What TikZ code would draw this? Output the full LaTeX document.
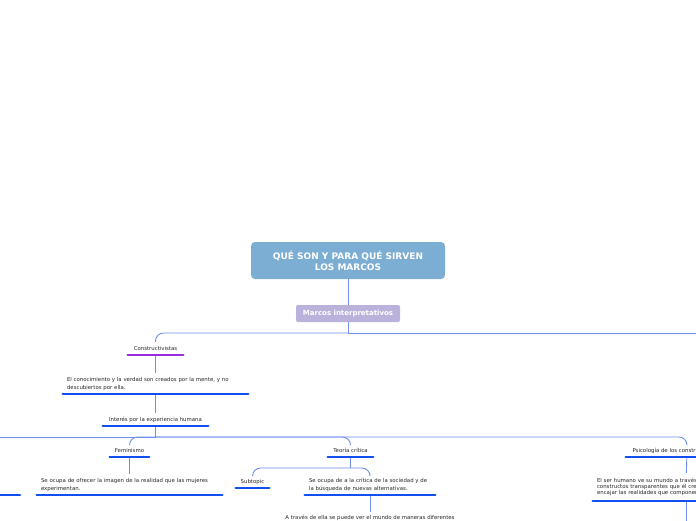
\documentclass[tikz,border=0pt]{standalone}
\usepackage{fontspec}
\setmainfont{DejaVu Sans}
\usetikzlibrary{positioning}
\definecolor{rootblue}{RGB}{124,174,212}
\definecolor{lavender}{RGB}{186,178,218}
\definecolor{linkblue}{RGB}{110,142,240}
\definecolor{ublue}{RGB}{18,78,240}
\definecolor{upurple}{RGB}{152,44,222}
\definecolor{txtgray}{RGB}{40,40,40}

\begin{document}
\begin{tikzpicture}[x=1pt, y=-1pt,
    conn/.style = {draw=linkblue, line width=0.9pt, rounded corners=8pt},
    uline/.style = {draw=ublue, line width=2.8pt, line cap=round},
    rootbox/.style = {fill=rootblue, rounded corners=4pt, minimum width=194pt, minimum height=37pt,
        text=white, align=center, font=\bfseries\fontsize{9}{11}\selectfont},
    marcobox/.style = {fill=lavender, rounded corners=2pt, minimum width=104pt, minimum height=17pt,
        text=white, font=\bfseries\fontsize{7}{8}\selectfont},
    topic/.style = {anchor=south, text=txtgray, inner xsep=4pt, inner ysep=3.5pt,
        font=\fontsize{5.4}{8}\selectfont},
    oneline/.style = {topic, text depth=1.3pt, minimum width=#1},
    longtext/.style = {topic, text width=#1, align=left}]
    \useasboundingbox (0,0) rectangle (696,520);
    \clip (0,0) rectangle (696,520);

    \node [rootbox] (root) at (348,260.5) {QUÉ SON Y PARA QUÉ SIRVEN\\LOS MARCOS};
    \node [marcobox] (marcos) at (348,313.5) {Marcos interpretativos};

    \node [oneline=55pt] (cons) at (155.5,355) {Constructivistas};
    \node [longtext=177pt] (cono) at (155.5,394)
        {El conocimiento y la verdad son creados por la mente, y no\\descubiertos por ella.};
    \node [oneline=105pt] (inte) at (155.5,426) {Interés por la experiencia humana};

    \node [oneline=39pt] (fem) at (129.5,457) {Feminismo};
    \node [longtext=177pt] (femt) at (129.5,495)
        {Se ocupa de ofrecer la imagen de la realidad que las mujeres\\experimentan.};

    \node [oneline=45pt] (teo) at (350.5,457) {Teoría crítica};
    \node [oneline=33pt] (sub) at (252.5,488) {Subtopic};
    \node [longtext=122pt] (teot) at (370,495)
        {Se ocupa de a la crítica de la sociedad y de\\la búsqueda de nuevas alternativas.};
    \node [oneline=180pt] (ats) at (370,524.8)
        {A través de ella se puede ver el mundo de maneras diferentes};

    \node [oneline=122pt] (psi) at (687,457) {Psicología de los constructos personales};
    \node [longtext=178pt, inner ysep=5pt, font=\fontsize{5.4}{6}\selectfont] (psit) at (686,501)
        {El ser humano ve su mundo a través de\\constructos transparentes que él crea y\\encajar las realidades que componen el mundo.};

    \coordinate (mj) at (348,333);
    \coordinate (mr) at (710,333);
    \coordinate (ij) at (155.5,437);
    \coordinate (il) at (-10,437);
    \coordinate (tj) at (350.5,468);
    \coordinate (pb) at (686,530);
    \coordinate (la) at (-30,495);
    \coordinate (lb) at (20,495);

    \draw [conn] (root) -- (marcos);
    \draw [conn] (marcos) -- (mj);
    \draw [conn] (mj) -- (mr);
    \draw [conn] (mj) -| (cons);
    \draw [conn] (cons) -- (cono);
    \draw [conn] (cono) -- (inte);
    \draw [conn] (inte.south) -- (ij);
    \draw [conn] (ij) -- (il);
    \draw [conn] (ij) -| (fem);
    \draw [conn] (ij) -| (teo);
    \draw [conn] (ij) -| (psi);
    \draw [conn] (fem) -- (femt);
    \draw [conn] (teo.south) -- (tj);
    \draw [conn] (tj) -| (sub);
    \draw [conn] (tj) -| (teot);
    \draw [conn] (teot) -- (ats);
    \draw [conn] (psi) -- (psit);
    \draw [conn] (psit.south) -- (pb);

    \draw [uline, draw=upurple] (cons.south west) -- (cons.south east);
    \foreach \n in {cono,inte,fem,femt,teo,sub,teot,ats,psi,psit}
        \draw [uline] (\n.south west) -- (\n.south east);
    \draw [uline] (la) -- (lb);
\end{tikzpicture}
\end{document}
